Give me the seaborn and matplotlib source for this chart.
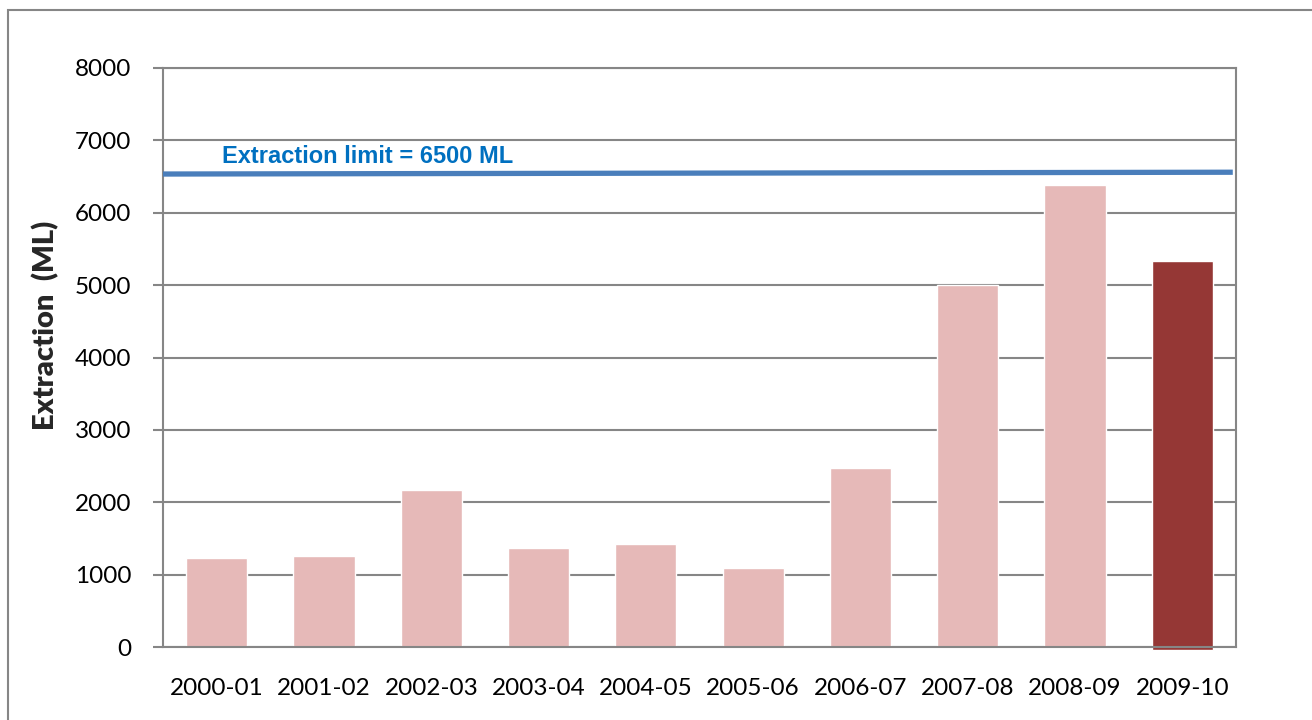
import matplotlib
matplotlib.use("Agg")
import matplotlib.pyplot as plt
import seaborn as sns
from matplotlib.patches import Rectangle

years = ["2000-01", "2001-02", "2002-03", "2003-04", "2004-05",
         "2005-06", "2006-07", "2007-08", "2008-09", "2009-10"]
extraction = [1230, 1260, 2170, 1370, 1420, 1090, 2470, 5000, 6380, 5330]
bar_colors = ["#E6B9B8"] * 9 + ["#953735"]
limit_x = [-0.5, 9.47]
limit_y = [6535, 6560]
limit_label = "Extraction limit = 6500 ML"
yticks = [0, 1000, 2000, 3000, 4000, 5000, 6000, 7000, 8000]

sns.set_theme(style="white")
plt.rcParams['font.family'] = ['Lato', 'DejaVu Sans']

fig = plt.figure(figsize=(13.12, 7.2), dpi=100)
ax = fig.add_axes([163/1312, 1-647/720, (1236-163)/1312, (647-68)/720])

sns.barplot(x=years, y=extraction, hue=years, palette=bar_colors, legend=False,
            width=0.57, saturation=1, ax=ax, zorder=2)
# last bar drops slightly below the axis in the original
last = ax.patches[-1]
last.set_y(-45)
last.set_height(extraction[-1] + 45)
last.set_clip_on(False)

ax.plot(limit_x, limit_y, color="#4A7EBB", lw=3.8, solid_capstyle="butt", zorder=3)
ax.text(0.05, 6685, limit_label, color="#0070C0", fontsize=17, fontweight="bold",
        family=["Liberation Sans", "DejaVu Sans"], ha="left", va="baseline")

ax.set_xlim(-0.5, 9.5)
ax.set_ylim(0, 8000)
ax.set_yticks(yticks)
ax.set_yticklabels([str(v) for v in yticks])
ax.yaxis.grid(True, color="#868686", lw=1.5, zorder=0)
ax.set_axisbelow(True)

ax.set_xticks(range(len(years)))
ax.set_xticklabels(years)
ax.tick_params(axis="x", which="major", length=0, pad=22, labelsize=17.5, colors="black")
ax.set_xticks([i - 0.5 for i in range(len(years) + 1)], minor=True)
ax.tick_params(axis="x", which="minor", length=7, width=1.5, color="#868686")
ax.tick_params(axis="y", length=7, width=1.5, color="#868686", pad=16, labelsize=17.5,
               labelcolor="black", left=True)

for side in ["left", "bottom", "right", "top"]:
    ax.spines[side].set_color("#868686")
    ax.spines[side].set_linewidth(1.5)
ax.spines["top"].set_visible(True)
ax.spines["right"].set_visible(True)

ax.set_ylabel("Extraction  (ML)", fontsize=21, fontweight="heavy")
ax.yaxis.set_label_coords(-0.097, 0.556)
ax.set_xlabel("")

fig.add_artist(Rectangle((8/1312, -0.2), 1.5, 1 - 10/720 + 0.2, transform=fig.transFigure,
                         fill=False, edgecolor="#868686", lw=1.5))

fig.savefig("out.png", dpi=100)
